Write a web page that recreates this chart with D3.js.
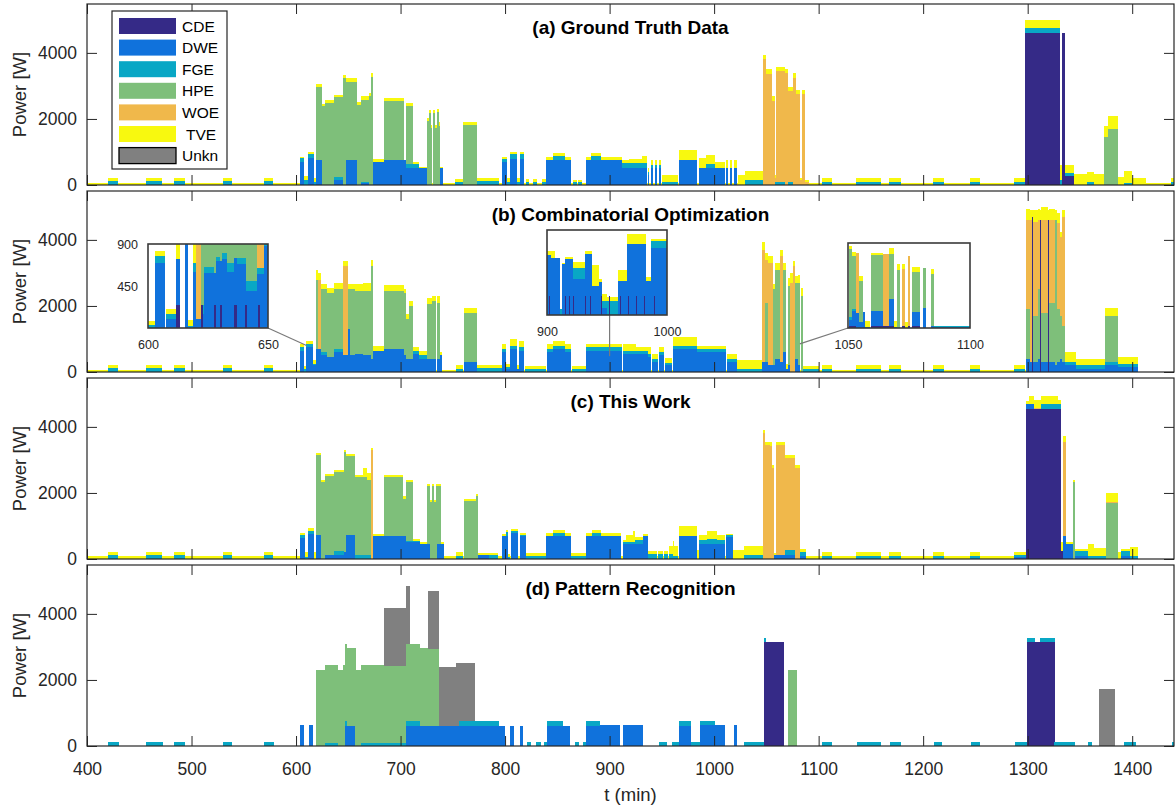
<!DOCTYPE html>
<html>
<head>
<meta charset="utf-8">
<script src="https://cdn.jsdelivr.net/npm/d3@7"></script>
<style>
	body { margin: 0; background: #fff; }
	svg text { font-family: "Liberation Sans", Arial, sans-serif; }
</style>
</head>
<body>
<svg id="chart" width="1175" height="807"></svg>
<script>
// rows: [t0, t1, CDE, DWE, FGE, HPE, WOE, TVE, Unkn]  (minutes, watts)
var categories = ["CDE", "DWE", "FGE", "HPE", "WOE", "TVE", "Unkn"];
var legendLabels = ["CDE", "DWE", "FGE", "HPE", "WOE", " TVE", "Unkn"];
var colors = ["#352a87", "#1072dc", "#09a7c5", "#7ebf7a", "#f0b84b", "#f8f90f", "#808080"];
var xTicks = [400, 500, 600, 700, 800, 900, 1000, 1100, 1200, 1300, 1400];
var yTicks = [0, 2000, 4000];
var panelTitles = ["(a) Ground Truth Data", "(b) Combinatorial Optimization", "(c) This Work", "(d) Pattern Recognition"];

var groundTruth = [
	[400,1440,0,0,0,0,0,65,0],
	[420,430,0,0,120,0,0,100,0],[456,472,0,0,120,0,0,100,0],[483.5,493.5,0,0,120,0,0,100,0],
	[530,539,0,0,120,0,0,100,0],[569,578,0,0,120,0,0,100,0],
	[603.5,608,0,700,120,0,0,40,0],[608,611,0,0,150,0,0,120,0],[611,617,0,820,130,0,0,40,0],
	[617,619.5,0,0,80,0,0,120,0],[619.5,624.5,0,760,0,2200,0,100,0],[624.5,628,0,0,0,2380,0,70,0],
	[628,636,0,0,0,2480,0,90,0],[636,645,0,150,80,2420,0,80,0],[645,648,0,0,0,3230,0,100,0],
	[648,658,0,760,0,2370,0,100,0],[658,662,0,0,0,2420,0,100,0],[662,670,0,60,40,2480,0,100,0],
	[670,672,0,0,0,2680,0,110,0],[672,674,0,0,0,3280,0,100,0],[674,684,0,700,0,0,0,80,0],
	[684,703,0,760,0,1770,0,100,0],[703,705,0,760,0,0,0,0,0],[705,711.5,0,510,130,1740,0,100,0],
	[711.5,718,0,510,130,0,0,50,0],[718,725,0,510,0,0,0,50,0],
	[725,727,0,0,0,1930,0,100,0],[727,729,0,0,0,2170,0,100,0],[729,730.5,0,0,0,1720,0,100,0],
	[731,733,0,0,0,2170,0,100,0],[733,734.5,0,0,0,1720,0,100,0],[735,737,0,0,0,2200,0,100,0],
	[737,738,0,0,0,1800,0,100,0],[738,741,0,510,0,0,0,50,0],
	[752.5,763,0,0,100,0,0,80,0],[760,773.5,0,0,0,1820,0,100,0],[773.5,794.5,0,0,120,0,0,90,0],
	[797.5,802,0,700,100,0,0,50,0],[802,805,0,0,100,0,0,100,0],[805,811,0,800,150,0,0,50,0],
	[811,814,0,0,100,0,0,100,0],[814,818.5,0,800,150,0,0,50,0],
	[820,823,0,0,100,0,0,80,0],[827,831,0,0,100,0,0,80,0],[835,839,0,0,100,0,0,80,0],
	[839.5,845.5,0,760,0,0,0,100,0],[845.5,857,0,760,110,0,0,100,0],[857,863.5,0,760,0,0,0,100,0],
	[865,869,0,0,80,0,0,80,0],[870,874,0,0,80,0,0,80,0],
	[877,882.5,0,760,0,0,0,100,0],[882.5,892,0,760,110,0,0,100,0],[892,911.5,0,760,0,0,0,100,0],
	[912,919,0,510,150,0,0,110,0],[919,931,0,510,150,0,0,130,0],[931,936,0,510,150,0,0,230,0],
	[936.5,938,0,300,100,0,0,100,0],[940,942,0,510,100,0,0,150,0],[943.5,945,0,510,100,0,0,150,0],
	[947,949,0,510,100,0,0,150,0],[950.5,965.5,0,0,100,0,0,200,0],[966,984,0,760,0,0,0,300,0],
	[986,992,0,510,0,0,0,300,0],[992,1001,0,510,120,0,0,270,0],[1001,1010.5,0,510,0,0,0,200,0],
	[1011.5,1013.5,0,510,0,0,0,250,0],[1015.5,1017.5,0,510,0,0,0,250,0],[1019.5,1021.5,0,510,0,0,0,250,0],
	[1022.5,1029.5,0,0,0,0,0,300,0],[1029.5,1047,0,0,150,0,0,280,0],
	[1047,1050,0,0,0,0,3800,150,0],[1050,1055,0,0,0,0,3350,150,0],[1055,1058,0,0,0,0,2550,130,0],
	[1058,1059.5,0,0,100,0,100,100,0],[1059.5,1068,0,0,100,0,3350,120,0],[1068,1071,0,0,0,0,3400,120,0],
	[1071,1075,0,0,100,0,2750,130,0],[1075,1078,0,0,0,0,3250,130,0],[1078,1082.5,0,0,0,0,2750,130,0],
	[1082.5,1084.5,0,0,0,0,150,50,0],[1084.5,1086.5,0,0,0,0,2750,130,0],[1087,1091,0,0,0,0,100,50,0],
	[1103.5,1113,0,0,100,0,0,120,0],[1136,1160,0,0,100,0,0,120,0],[1167.5,1179,0,0,100,0,0,120,0],
	[1209.5,1219.5,0,0,100,0,0,120,0],[1245,1254.5,0,0,100,0,0,120,0],[1287,1297.5,0,0,100,0,0,120,0],
	[1297.5,1331,4600,0,150,0,0,250,0],[1331,1333,0,0,150,0,0,450,0],[1333,1336,4600,0,0,0,0,0,0],
	[1336,1344.5,270,0,80,0,0,250,0],[1344.5,1373.5,0,0,0,0,0,320,0],[1357,1363,0,0,100,0,0,300,0],
	[1373.5,1377,0,0,0,1450,0,350,0],[1377,1386,0,0,0,1700,0,380,0],
	[1386,1392,0,0,0,0,0,250,0],[1392,1400,0,0,60,0,0,370,0],[1400,1413.5,0,0,0,0,0,220,0],
	[1437,1440,0,0,100,0,0,100,0]
];

var combOpt = [
	[400,1405.5,0,0,0,0,0,65,0],
	[420,430,0,0,120,0,0,100,0],[456,472,0,0,120,0,0,100,0],[483.5,493.5,0,0,120,0,0,100,0],
	[530,539,0,0,120,0,0,100,0],[569,578,0,0,120,0,0,100,0],
	[603.5,608,0,650,100,0,0,100,0],[608,610,0,0,80,0,0,100,0],[610,616,0,750,100,0,0,100,0],
	[616,619.5,0,200,50,0,0,100,0],[619.5,621,0,700,0,2100,0,300,0],[621,623.5,0,700,0,0,2100,200,0],
	[623.5,630,0,500,100,1900,0,150,0],[630,636,0,450,0,1950,0,150,0],[636,644.5,0,600,100,1800,0,200,0],
	[644.5,649.5,0,500,0,0,2700,170,0],[649.5,652,0,1300,0,1200,0,150,0],[652,656,0,500,0,2000,0,150,0],
	[656,664,0,550,0,1900,0,200,0],[664,672,0,500,0,1950,0,250,0],[672,674,0,400,0,2800,0,200,0],
	[674,684,0,650,0,0,0,150,0],[684,703,0,700,0,1750,0,170,0],[703,705,0,500,0,1900,0,100,0],
	[705,708,0,400,0,1200,0,150,0],[708,711.5,0,400,0,1600,0,150,0],[711.5,718,0,550,100,0,0,100,0],
	[718,725,0,400,100,0,0,150,0],[725,730,0,400,0,1650,0,200,0],[730.5,734,0,400,0,1750,0,150,0],
	[734.5,738,0,400,0,1700,0,200,0],[738,740,0,500,0,0,0,100,0],
	[753.5,760,0,0,100,0,0,120,0],[760.5,773.5,0,300,0,1500,0,150,0],[773.5,797,0,0,120,0,0,100,0],
	[797.5,801,0,600,100,0,0,150,0],[801,805,0,100,50,0,0,100,0],[805,811,0,700,100,0,0,200,0],
	[811,813,0,100,0,0,0,100,0],[813,818.5,0,650,100,0,0,200,0],[819,839,0,0,80,0,0,100,0],
	[840,846,0,600,100,0,0,150,0],[846,857,0,700,100,0,0,150,0],[857,863.5,0,600,100,0,0,150,0],
	[864,877,0,0,80,0,0,100,0],[877,911.5,0,650,100,0,0,100,0],[912.5,925,0,550,100,0,0,200,0],
	[925,936.5,0,550,100,0,0,100,0],[936.5,940,0,450,100,0,0,200,0],[941,946,0,300,80,0,0,150,0],
	[947,952,0,500,100,0,0,150,0],[953,960,0,200,80,0,0,150,0],[960.5,984,0,700,100,0,0,250,0],
	[984,1011.5,0,600,100,0,0,100,0],[1012,1021.5,0,300,80,0,0,150,0],[1021.5,1046,0,0,100,0,0,250,0],
	[1046,1049,0,300,0,0,3400,250,0],[1049,1052,0,300,0,1800,1300,200,0],[1052,1056,0,200,0,0,3100,200,0],
	[1056,1058,0,200,0,2300,0,150,0],[1058,1063,0,400,0,2700,0,200,0],[1063,1066,0,300,0,0,3200,200,0],
	[1066,1069,0,600,0,2500,0,200,0],[1069,1071,0,100,0,0,0,150,0],[1071,1073,0,200,0,2400,0,250,0],
	[1073,1075,0,0,0,0,2700,300,0],[1075,1077,0,0,0,0,3200,150,0],[1077,1080,0,400,0,2300,0,200,0],
	[1080,1082,0,200,0,2500,0,250,0],[1083,1085,0,0,0,2300,0,250,0],[1085,1100,0,0,100,0,0,80,0],
	[1103.5,1113,0,0,100,0,0,120,0],[1136,1160,0,0,100,0,0,120,0],[1167.5,1179,0,0,100,0,0,120,0],
	[1209.5,1219.5,0,0,100,0,0,120,0],[1245,1254.5,0,0,100,0,0,120,0],[1287,1297.5,0,0,100,0,0,120,0],
	[1298,1302,0,400,0,1500,2700,350,0],[1302,1304,0,300,0,0,4300,300,0],[1304,1305,4700,0,0,0,0,200,0],
	[1305,1310,0,300,0,1400,2850,350,0],[1310,1312,0,400,0,2100,2100,350,0],[1312,1313,4600,0,0,0,0,300,0],
	[1313,1319,0,300,0,1500,2800,400,0],[1319,1320,4600,0,0,0,0,300,0],[1320,1326,0,300,0,1800,2500,350,0],
	[1326,1328,0,200,0,4400,0,300,0],[1328,1331,0,300,0,1600,2600,300,0],[1331,1333,0,400,0,1300,2400,150,0],
	[1333,1336,0,300,0,1100,3300,200,0],[1336,1346,0,200,100,0,0,300,0],[1346,1374,0,100,100,0,0,200,0],
	[1374,1386,0,200,100,1400,0,250,0],[1386,1405.5,0,150,100,0,0,200,0]
];

var thisWork = [
	[400,1405.5,0,0,0,0,0,80,0],
	[420,430,0,0,120,0,0,100,0],[456,472,0,0,120,0,0,100,0],[483.5,493.5,0,0,120,0,0,100,0],
	[530,539,0,0,120,0,0,100,0],[569,578,0,0,120,0,0,100,0],
	[603.5,609,0,650,80,0,0,70,0],[609,611,0,0,60,0,0,160,0],[611,617,0,750,100,0,0,80,0],
	[617,619.5,0,0,0,0,0,200,0],[619.5,624,0,720,0,2420,0,60,0],[624,627.5,0,0,0,2340,0,60,0],
	[627.5,636,0,110,0,2410,0,60,0],[636,645.5,0,110,120,2410,0,60,0],[645.5,648,0,200,0,3030,0,60,0],
	[648,656,0,726,0,2390,0,60,0],[656,664.5,0,0,110,2380,0,60,0],[664.5,668,0,0,110,2380,0,280,0],
	[668,672,0,0,110,2280,0,200,0],[672,674,0,0,0,0,3300,60,0],[674,684,0,706,0,0,0,60,0],
	[684,702,0,706,0,1790,0,60,0],[702,705,0,706,0,1100,0,100,0],[705,711.5,0,500,60,1760,0,60,0],
	[711.5,719,0,500,60,0,0,60,0],[719,725,0,440,0,0,0,60,0],
	[725,728,0,440,0,1780,0,60,0],[728,730,0,0,0,1740,0,60,0],[730,732,0,0,0,2220,0,60,0],
	[732,733.5,0,0,0,1740,0,60,0],[733.5,735,0,0,0,2220,0,60,0],[735,738.5,0,440,0,1780,0,60,0],
	[738.5,741.5,0,440,0,0,0,60,0],[753,760,0,0,100,0,0,100,0],[760.5,772,0,0,0,1760,0,60,0],
	[772,774,0,0,0,1900,0,60,0],[774,785,0,110,0,0,0,60,0],[785,793,0,0,110,0,0,60,0],
	[797.5,800.5,0,706,0,0,0,60,0],[800.5,803,0,706,100,0,0,70,0],[803,805,0,0,60,0,0,100,0],
	[805.5,812.5,0,800,60,0,0,60,0],[814,820,0,700,40,0,0,60,0],[820,840,0,0,100,0,0,80,0],
	[839.5,846,0,706,0,0,0,80,0],[846,857,0,706,80,0,0,80,0],[857,863.5,0,706,0,0,0,80,0],
	[863.5,877,0,0,100,0,0,80,0],[877,883,0,706,0,0,0,80,0],[883,892,0,706,80,0,0,80,0],
	[892,911,0,706,0,0,0,80,0],[912.5,916,0,440,80,0,0,60,0],[916,922,0,440,80,0,0,200,0],
	[922,924,0,440,80,0,0,330,0],[924,932,0,440,140,0,0,80,0],[932,936.5,0,706,0,0,0,60,0],
	[936.5,945,0,0,160,0,0,80,0],[946,951,0,0,160,0,0,80,0],[952,956,0,0,160,0,0,80,0],
	[957,960.5,0,0,150,0,0,250,0],[960.5,962,0,0,100,0,0,450,0],[962,965.5,0,0,100,0,0,300,0],
	[966,984,0,706,0,0,0,300,0],[984,986,0,0,0,0,0,260,0],[986,993.5,0,440,140,0,0,160,0],
	[993.5,1003,0,440,160,0,0,260,0],[1003,1010.5,0,440,140,0,0,160,0],[1011.5,1018,0,680,40,0,0,40,0],
	[1018,1029,0,0,0,0,0,260,0],[1029,1047,0,0,110,0,0,270,0],
	[1047,1049,0,0,0,0,3800,120,0],[1049,1053,0,0,0,0,3450,100,0],[1053,1055.5,0,0,0,0,3430,100,0],
	[1055.5,1057.5,0,0,0,0,2760,100,0],[1057.5,1059.5,0,110,0,0,0,60,0],[1059.5,1067.5,0,110,0,0,3330,100,0],
	[1067.5,1068,0,110,0,0,60,50,0],[1068,1070.5,0,110,150,0,2800,80,0],[1071,1077,0,110,150,0,2800,80,0],
	[1077,1082,0,0,0,0,2760,100,0],[1082,1088,0,100,100,0,0,100,0],
	[1103.5,1113,0,0,100,0,0,120,0],[1136,1160,0,0,100,0,0,120,0],[1167.5,1179,0,0,100,0,0,120,0],
	[1209.5,1219.5,0,0,100,0,0,120,0],[1245,1254.5,0,0,100,0,0,120,0],
	[1287,1298,0,60,50,0,0,100,0],[1298,1301,4530,170,0,0,0,80,0],[1301,1306.5,4530,170,0,0,0,230,0],
	[1306.5,1313,4530,0,0,0,50,220,0],[1313,1329,4530,0,170,0,0,225,0],[1329,1331.5,4530,0,170,0,0,100,0],
	[1331.5,1334,250,0,0,0,0,250,0],[1334,1336.5,0,700,0,0,2830,200,0],[1336.5,1343.5,0,450,0,0,0,50,0],
	[1343.5,1345.5,0,0,0,2330,0,60,0],[1345.5,1357.5,0,100,150,0,0,50,0],[1357.5,1363,0,0,100,0,0,350,0],
	[1363,1374.5,0,0,100,0,0,230,0],[1374.5,1386.5,0,0,0,1700,40,270,0],[1386.5,1389,0,0,0,0,0,200,0],
	[1389,1398,0,100,150,0,0,50,0],[1398,1405.5,0,0,100,0,0,250,0]
];

var patternRec = [
	[420,430.5,0,0,130,0,0,0,0],[456,473,0,0,130,0,0,0,0],[483,493.5,0,0,130,0,0,0,0],
	[530.5,539,0,0,130,0,0,0,0],[569,578.5,0,0,130,0,0,0,0],
	[604,608,0,650,0,0,0,0,0],[612,616.5,0,650,0,0,0,0,0],[619,628,0,0,0,2300,0,0,0],
	[628,640,0,0,100,2355,0,0,0],[640,644.5,0,0,0,2300,0,0,0],[644.5,646.5,0,0,0,2455,0,0,0],
	[646.5,648.5,0,620,140,2330,0,0,0],[648.5,656,0,620,0,2350,0,0,0],[656,657,0,0,0,2970,0,0,0],
	[657,662.5,0,0,0,2300,0,0,0],[662.5,684.5,0,0,100,2355,0,0,0],[684.5,705.5,0,0,100,2335,0,0,1745],
	[705.5,709,0,620,150,2320,0,0,1740],[709,718.5,0,620,150,2320,0,0,0],[718.5,726,0,620,0,2350,0,0,0],
	[726,737,0,620,0,2330,0,0,1750],[737,753,0,620,0,0,0,0,1760],[753,756,0,620,0,0,0,0,1900],
	[756,771.5,0,620,130,0,0,0,1775],[771.5,794.5,0,620,130,0,0,0,0],[794.5,800,0,620,0,0,0,0,0],
	[805,809,0,620,0,0,0,0,0],[814,817.5,0,620,0,0,0,0,0],
	[821,825,0,0,120,0,0,0,0],[830,834,0,0,120,0,0,0,0],[837.5,840,0,0,120,0,0,0,0],
	[840,855.5,0,620,150,0,0,0,0],[855.5,862.5,0,620,0,0,0,0,0],
	[866.5,870.5,0,0,120,0,0,0,0],[875,877,0,0,120,0,0,0,0],
	[877,891,0,620,150,0,0,0,0],[891,910,0,640,0,0,0,0,0],[912.5,932,0,640,0,0,0,0,0],
	[947,954.5,0,0,120,0,0,0,0],[960,966,0,0,120,0,0,0,0],[966,978,0,620,150,0,0,0,0],
	[978,986.5,0,0,120,0,0,0,0],[986.5,1001,0,640,130,0,0,0,0],[1001,1010,0,640,0,0,0,0,0],
	[1019.5,1021.5,0,640,0,0,0,0,0],[1029,1048,0,0,120,0,0,0,0],
	[1047.5,1050,3150,0,120,0,0,0,0],[1050,1066.5,3150,0,0,0,0,0,0],[1071,1079,0,0,0,2300,0,0,0],
	[1103,1113,0,0,120,0,0,0,0],[1136.5,1159.5,0,0,120,0,0,0,0],[1168,1179,0,0,120,0,0,0,0],
	[1210,1218.5,0,0,120,0,0,0,0],[1246,1254,0,0,120,0,0,0,0],[1287.5,1299,0,0,120,0,0,0,0],
	[1299,1307,3150,0,120,0,0,0,0],[1307,1312,3150,0,0,0,0,0,0],[1312,1326.5,3150,0,120,0,0,0,0],
	[1325.5,1345.5,0,0,120,0,0,0,0],[1357.5,1362,0,0,120,0,0,0,0],[1368,1384,0,0,0,0,0,0,1740],
	[1392.5,1404,0,0,120,0,0,0,0],[1438,1440,0,0,120,0,0,0,0]
];

// zoomed insets of panel (b)
var zoomFirst = [
	[600,603,0,0,30,0,0,50,0],[603,607.2,0,700,70,0,0,50,0],[607.5,611.5,0,100,50,0,0,50,0],
	[611.5,613.5,250,490,0,0,0,200,0],[615.5,616.5,0,900,0,0,0,0,0],[616.5,618.8,0,0,20,0,0,70,0],
	[618.8,619.8,0,600,100,0,0,300,0],[619.8,621.9,0,100,0,0,1000,0,0],[622,623.5,0,150,100,1800,0,0,0],
	[623.5,627.5,0,590,60,1800,0,0,0],[627.5,628.2,250,340,0,1800,0,0,0],[628.2,630,0,720,40,1800,0,0,0],
	[630,631,250,470,0,1800,0,0,0],[631,633,0,740,60,1800,0,0,0],[633,636,0,600,100,1800,0,0,0],
	[636,637,250,500,0,1800,0,0,0],[637,641,0,690,60,1800,0,0,0],[641,645.5,0,400,100,1800,0,0,0],
	[645.5,648.3,0,580,60,0,1200,0,0],[648.3,650,0,880,40,0,0,100,0],
	[622,623,250,0,0,0,0,0,0],[640.5,641.3,250,0,0,0,0,0,0],[646,646.6,250,0,0,0,0,0,0]
];
var zoomSecond = [
	[900,903.3,0,850,0,0,0,50,0],[903.3,907,0,810,0,0,0,100,0],[907,910.5,0,810,0,0,0,0,0],
	[910.5,912.4,0,0,85,0,0,0,0],[912.4,915.2,0,720,0,0,0,20,0],[915.2,922,0,790,0,0,0,30,0],
	[922,932,0,510,160,0,0,80,0],[932,937.5,0,860,0,0,0,50,0],[937.5,943,0,410,0,0,0,300,0],
	[943,946,0,460,0,0,0,50,0],[946,949.7,0,100,100,0,0,100,0],[949.7,959.4,0,0,200,0,0,50,0],
	[959.4,966.3,0,480,0,0,0,150,0],[966.3,982.9,0,1000,0,0,0,150,0],[982.9,987,0,480,0,0,0,50,0],
	[987,1000,0,950,90,0,0,30,0],
	[902,902.6,270,0,0,0,0,0,0],[910.5,911.1,270,0,0,0,0,0,0],[915,915.6,270,0,0,0,0,0,0],
	[918.3,918.9,270,0,0,0,0,0,0],[922,922.6,270,0,0,0,0,0,0],[932,932.6,270,0,0,0,0,0,0],
	[936,936.6,270,0,0,0,0,0,0],[945,945.6,270,0,0,0,0,0,0],[951.5,952.1,270,0,0,0,0,0,0],
	[960.6,961.2,270,0,0,0,0,0,0],[967.4,968,270,0,0,0,0,0,0],[974.3,974.9,270,0,0,0,0,0,0],
	[981.2,981.8,270,0,0,0,0,0,0],[989.5,990.1,270,0,0,0,0,0,0]
];
var zoomThird = [
	[1050.3,1051.6,100,300,100,3200,0,150,0],[1051.6,1053.4,100,700,100,2500,0,200,0],
	[1053.4,1054.7,0,700,0,0,2850,0,0],[1054.7,1056,0,300,0,1900,0,250,0],[1056,1057,0,750,0,0,0,0,0],
	[1057,1059,0,0,50,0,0,300,0],[1059.5,1064.2,100,700,0,2650,0,100,0],[1064.2,1066.9,100,0,0,0,3400,0,0],
	[1066.9,1068.8,100,1250,0,2150,0,250,0],[1068.8,1070.1,0,0,50,0,0,300,0],[1070.1,1071.5,0,0,0,2720,0,280,0],
	[1072.3,1073.2,100,0,0,0,2700,230,0],[1073.5,1074.5,0,0,0,0,0,300,0],[1074.6,1075.5,100,0,0,0,3280,0,0],
	[1076.4,1079.6,100,650,0,1890,0,250,0],[1080.7,1081.8,0,950,0,1890,0,0,0],[1084,1085.4,0,100,0,2450,0,250,0],
	[1085.4,1100,0,30,50,0,0,30,0]
];

var panelData = [groundTruth, combOpt, thisWork, patternRec];

var svg = d3.select("#chart"),
	left = 87, right = 1174,
	panelTop = [4, 191, 378, 565],
	panelH = 181,
	axisColor = "#262626";

var x = d3.scaleLinear().domain([400, 1440]).range([left, right]);

function drawBars(g, rows, xs, ys) {
	var series = d3.stack()
		.keys(d3.range(categories.length))
		.value((d, k) => d[k + 2])(rows);

	g.selectAll("g.row")
		.data(rows)
	.enter().append("g")
		.attr("class", "row")
		.attr("shape-rendering", "crispEdges")
	.selectAll("rect")
		.data((r, i) => series.map((s, k) => ({k: k, y0: s[i][0], y1: s[i][1], r: r}))
			.filter(d => d.y1 > d.y0))
	.enter().append("rect")
		.attr("x", d => xs(d.r[0]))
		.attr("width", d => Math.max(0.8, xs(d.r[1]) - xs(d.r[0])))
		.attr("y", d => ys(d.y1))
		.attr("height", d => ys(d.y0) - ys(d.y1))
		.attr("fill", d => colors[d.k]);
}

function styleAxis(g, size) {
	g.attr("font-size", size).attr("font-family", null);
	g.select(".domain").remove();
	g.selectAll("line").attr("stroke", axisColor);
	g.selectAll("text").attr("fill", axisColor);
}

panelData.forEach(function(rows, p) {
	var top = panelTop[p], bottom = top + panelH;
	var y = d3.scaleLinear().domain([0, 5480]).range([bottom, top]);

	svg.append("clipPath").attr("id", "clip" + p)
		.append("rect").attr("x", left).attr("y", top).attr("width", right - left).attr("height", panelH);

	drawBars(svg.append("g").attr("clip-path", "url(#clip" + p + ")"), rows, x, y);

	svg.append("g")
		.attr("transform", "translate(0," + bottom + ")")
		.call(d3.axisBottom(x).tickValues(xTicks).tickSizeInner(-10).tickSizeOuter(0).tickPadding(17)
			.tickFormat(p == 3 ? d3.format("d") : ""))
		.call(g => styleAxis(g, 17.5));

	svg.append("g")
		.attr("transform", "translate(0," + top + ")")
		.call(d3.axisTop(x).tickValues(xTicks).tickSizeInner(-10).tickSizeOuter(0).tickFormat(""))
		.call(g => styleAxis(g, 17));

	svg.append("g")
		.attr("transform", "translate(" + left + ",0)")
		.call(d3.axisLeft(y).tickValues(yTicks).tickSizeInner(-10).tickSizeOuter(0).tickPadding(10)
			.tickFormat(d3.format("d")))
		.call(g => styleAxis(g, 17.5));

	svg.append("g")
		.attr("transform", "translate(" + right + ",0)")
		.call(d3.axisRight(y).tickValues(yTicks).tickSizeInner(-10).tickSizeOuter(0).tickFormat(""))
		.call(g => styleAxis(g, 17));

	svg.append("rect")
		.attr("x", left).attr("y", top).attr("width", right - left).attr("height", panelH)
		.attr("fill", "none").attr("stroke", axisColor).attr("stroke-width", 1.2);

	svg.append("text")
		.attr("x", (left + right) / 2).attr("y", top + 30)
		.attr("text-anchor", "middle")
		.attr("font-weight", "bold").attr("font-size", 19)
		.attr("fill", "#000")
		.text(panelTitles[p]);

	svg.append("text")
		.attr("transform", "translate(20," + (top + panelH / 2) + ") rotate(-90)")
		.attr("dy", "0.35em")
		.attr("text-anchor", "middle")
		.attr("font-size", 18.5)
		.attr("fill", axisColor)
		.text("Power [W]");

	if (p == 1) drawInsets(y);
});

function drawInsets(yMain) {
	var insets = [
		{rows: zoomFirst, t: [600, 650], w: [0, 900], box: [148, 244, 120, 84], yLabels: [450, 900], anchor: [610, 800], corner: "right"},
		{rows: zoomSecond, t: [900, 1000], w: [0, 1200], box: [547, 230, 120, 85], yLabels: [], anchor: [900, 480], corner: "line"},
		{rows: zoomThird, t: [1050, 1100], w: [0, 4000], box: [848, 243, 122, 85], yLabels: [], anchor: [1082, 850], corner: "left"}
	];

	insets.forEach(function(ins, i) {
		var b = ins.box,
			xs = d3.scaleLinear().domain(ins.t).range([b[0], b[0] + b[2]]),
			ys = d3.scaleLinear().domain(ins.w).range([b[1] + b[3], b[1]]);

		var ax = x(ins.anchor[0]), ay = yMain(ins.anchor[1]);
		var sx = ins.corner == "right" ? b[0] + b[2] : ins.corner == "left" ? b[0] : ax;
		svg.append("line")
			.attr("x1", sx).attr("y1", b[1] + b[3]).attr("x2", ax).attr("y2", ay)
			.attr("stroke", "#7a7a7a").attr("stroke-width", 1.2);

		svg.append("rect")
			.attr("x", b[0]).attr("y", b[1]).attr("width", b[2]).attr("height", b[3])
			.attr("fill", "#fff");

		svg.append("clipPath").attr("id", "inset" + i)
			.append("rect").attr("x", b[0]).attr("y", b[1]).attr("width", b[2]).attr("height", b[3]);

		drawBars(svg.append("g").attr("clip-path", "url(#inset" + i + ")"), ins.rows, xs, ys);

		svg.append("rect")
			.attr("x", b[0]).attr("y", b[1]).attr("width", b[2]).attr("height", b[3])
			.attr("fill", "none").attr("stroke", "#3a3a3a").attr("stroke-width", 1.6);

		svg.append("g")
			.attr("transform", "translate(0," + (b[1] + b[3]) + ")")
			.call(d3.axisBottom(xs).tickValues(ins.t).tickSize(0).tickPadding(12).tickFormat(d3.format("d")))
			.call(g => styleAxis(g, 12.5));

		if (ins.yLabels.length)
			svg.append("g")
				.attr("transform", "translate(" + b[0] + ",0)")
				.call(d3.axisLeft(ys).tickValues(ins.yLabels).tickSize(0).tickPadding(10).tickFormat(d3.format("d")))
				.call(g => styleAxis(g, 12.5));
	});
}

// x label
svg.append("text")
	.attr("x", (left + right) / 2).attr("y", 801)
	.attr("text-anchor", "middle")
	.attr("font-size", 18.5)
	.attr("fill", axisColor)
	.text("t (min)");

// legend
var legend = svg.append("g").attr("transform", "translate(112,11)");
legend.append("rect")
	.attr("width", 115).attr("height", 158)
	.attr("fill", "#fff").attr("stroke", axisColor).attr("stroke-width", 1.2);

var item = legend.selectAll("g.item")
	.data(categories)
.enter().append("g")
	.attr("class", "item")
	.attr("transform", (d, i) => "translate(0," + (15 + i * 21.6) + ")");

item.append("rect")
	.attr("x", 7).attr("y", -8).attr("width", 57).attr("height", 16)
	.attr("fill", (d, i) => colors[i])
	.attr("stroke", d => d == "Unkn" ? "#000" : "none")
	.attr("stroke-width", 1.3);

item.append("text")
	.attr("x", 70).attr("dy", "0.36em")
	.attr("font-size", 15.5)
	.attr("fill", "#000")
	.style("white-space", "pre")
	.text((d, i) => legendLabels[i]);
</script>
</body>
</html>
